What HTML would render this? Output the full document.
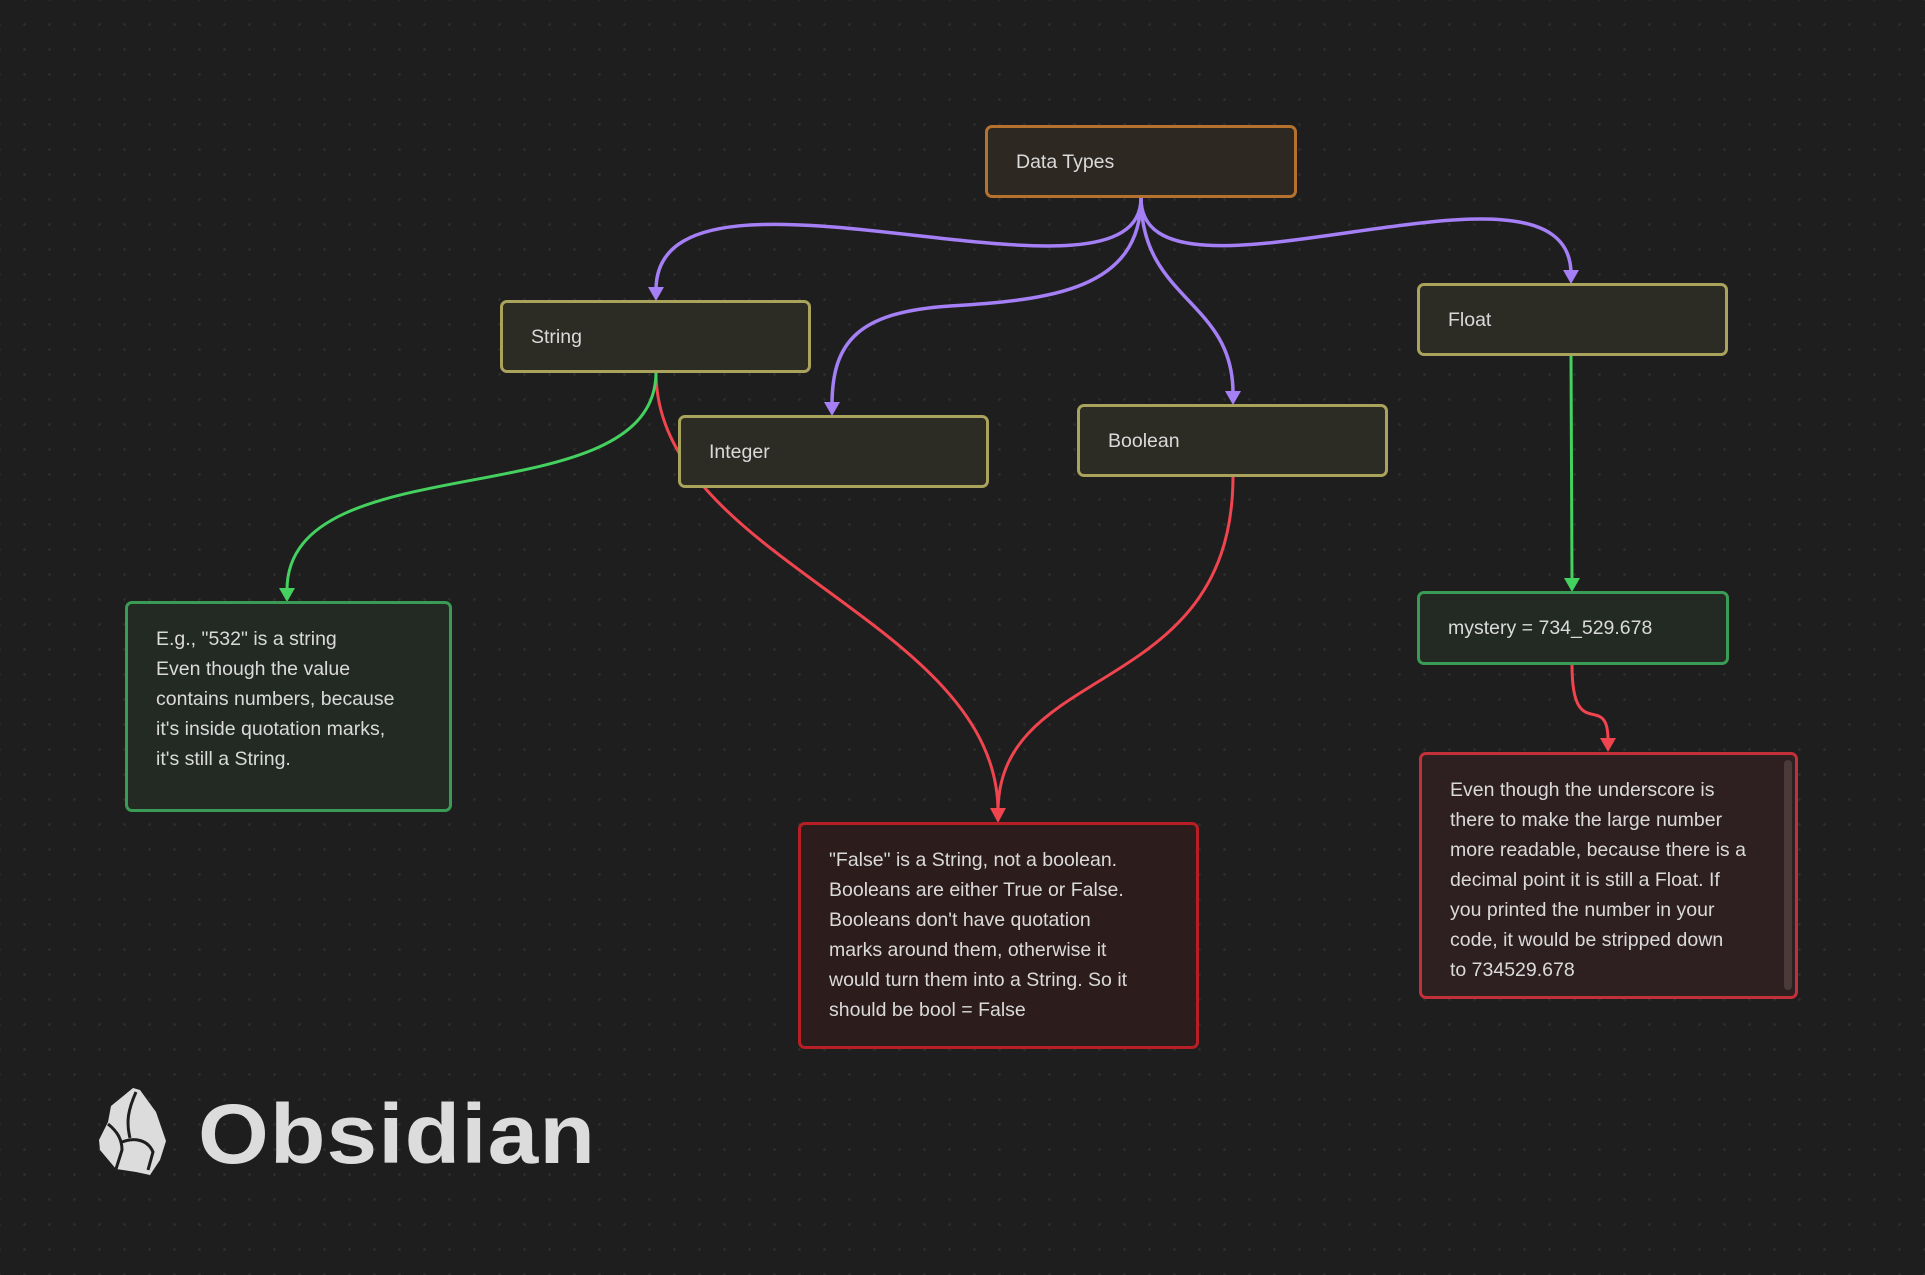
<!DOCTYPE html>
<html><head><meta charset="utf-8"><style>
html,body{margin:0;padding:0}
body{width:1925px;height:1275px;position:relative;overflow:hidden;background-color:#1e1e1e;
background-image:radial-gradient(circle,#2e2e2e 1.2px,transparent 1.5px);background-size:25px 25px;background-position:12px 12px;
font-family:"Liberation Sans","DejaVu Sans",sans-serif;color:#dadada}
.n{position:absolute;box-sizing:border-box;border:3px solid;border-radius:7px;font-size:19.5px;line-height:30px;padding:0 0 0 28px}
.s{display:flex;align-items:center}
.y{border-color:#a9a35b;background:#2c2b24}
.g{border-color:#3a9b55;background:#232a24}
.r{border-color:#c2303a;background:#2e1f20}
svg{position:absolute;left:0;top:0}
</style></head><body>
<svg width="1925" height="1275">
<g fill="none" stroke="#a57ff5" stroke-width="3.5">
<path d="M1141,198 C1141,330 656,130 656,290"/>
<path d="M1141,198 C1141,290 1050,300 950,306 C860,312 832,340 832,405"/>
<path d="M1141,198 C1141,300 1233,300 1233,393"/>
<path d="M1141,198 C1141,330 1571,130 1571,274"/>
</g>
<g fill="#a57ff5">
<polygon points="648,287 664,287 656,301"/>
<polygon points="824,402 840,402 832,416"/>
<polygon points="1225,391 1241,391 1233,405"/>
<polygon points="1563,270 1579,270 1571,284"/>
</g>
<g fill="none" stroke="#f0444f" stroke-width="3">
<path d="M656,372 C656,560 998,620 998,812"/>
<path d="M1233,476 C1233,700 998,660 998,812"/>
<path d="M1572,665 C1572,745 1608,690 1608,740"/>
</g>
<g fill="#f0444f">
<polygon points="990,808 1006,808 998,823"/>
<polygon points="1600,738 1616,738 1608,752"/>
</g>
<g fill="none" stroke="#44d15f" stroke-width="3">
<path d="M656,372 C656,520 287,440 287,590"/>
<path d="M1571,355 L1572,580"/>
</g>
<g fill="#44d15f">
<polygon points="279,588 295,588 287,602"/>
<polygon points="1564,578 1580,578 1572,592"/>
</g>
</svg>
<div class="n s" style="left:985px;top:125px;width:312px;height:73px;border-color:#b5722f;background:#2d2822">Data Types</div>
<div class="n s y" style="left:500px;top:300px;width:311px;height:73px">String</div>
<div class="n s y" style="left:678px;top:415px;width:311px;height:73px">Integer</div>
<div class="n s y" style="left:1077px;top:404px;width:311px;height:73px">Boolean</div>
<div class="n s y" style="left:1417px;top:283px;width:311px;height:73px">Float</div>
<div class="n s g" style="left:1417px;top:591px;width:312px;height:74px">mystery = 734_529.678</div>
<div class="n g" style="left:125px;top:601px;width:327px;height:211px;padding-top:20px">E.g., "532" is a string<br>Even though the value<br>contains numbers, because<br>it's inside quotation marks,<br>it's still a String.</div>
<div class="n r" style="left:798px;top:822px;width:401px;height:227px;padding-top:20px;border-color:#b81f24;background:#2d1c1c">"False" is a String, not a boolean.<br>Booleans are either True or False.<br>Booleans don't have quotation<br>marks around them, otherwise it<br>would turn them into a String. So it<br>should be bool = False</div>
<div class="n r" style="left:1419px;top:752px;width:379px;height:247px;padding-top:20px">Even though the underscore is<br>there to make the large number<br>more readable, because there is a<br>decimal point it is still a Float. If<br>you printed the number in your<br>code, it would be stripped down<br>to 734529.678<div style="position:absolute;right:3px;top:5px;width:8px;height:230px;background:#4a3a3a;border-radius:4px"></div></div>
<svg width="1925" height="1275" style="pointer-events:none">
<g fill="#dcdcdc">
<path d="M133,1088 L140,1090 L156,1112 L166,1141 L160,1160 L150,1175 L136,1172 L116,1169 L100,1150 L99,1140 L108,1122 L111,1106 Z"/>
</g>
<g fill="none" stroke="#1e1e1e" stroke-width="3">
<path d="M136,1092 C128,1110 126,1122 130,1138 M108,1124 C118,1132 122,1140 122,1150 L116,1169 M122,1142 C135,1137 148,1140 153,1152 L148,1170"/>
</g>
<text x="198" y="1163" font-family="Liberation Sans, sans-serif" font-weight="bold" font-size="84" fill="#dcdcdc" letter-spacing="1" textLength="398" lengthAdjust="spacingAndGlyphs">Obsidian</text>
</svg>
</body></html>
